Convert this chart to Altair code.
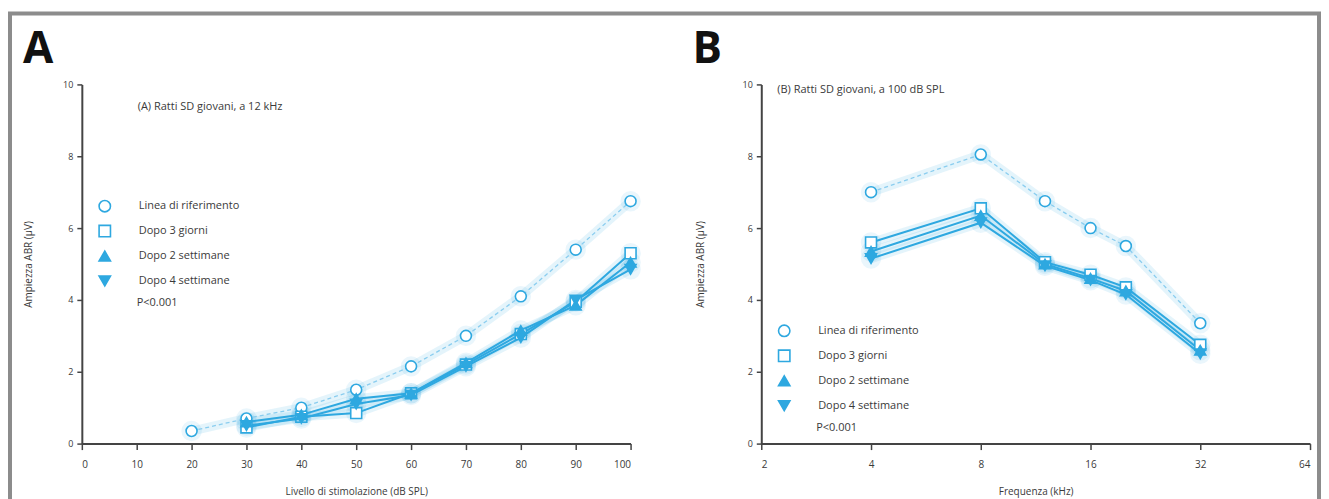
import altair as alt
import pandas as pd

GROUPS = ["Linea di riferimento", "Dopo 3 giorni", "Dopo 2 settimane", "Dopo 4 settimane"]
SHAPES = ["circle", "square", "triangle-up", "triangle-down"]

# Panel A: ABR amplitude vs stimulation level (12 kHz)
A_LEVELS = [20, 30, 40, 50, 60, 70, 80, 90, 100]
A_BASE = [0.35, 0.7, 1.0, 1.5, 2.15, 3.0, 4.1, 5.4, 6.75]
A_3G = [None, 0.45, 0.75, 0.85, 1.4, 2.2, 3.05, 3.95, 5.3]
A_2S = [None, 0.6, 0.8, 1.25, 1.4, 2.25, 3.15, 3.85, 5.05]
A_4S = [None, 0.5, 0.7, 1.1, 1.35, 2.15, 2.95, 4.0, 4.85]
A_XTICKS = [0, 10, 20, 30, 40, 50, 60, 70, 80, 90, 100]

# Panel B: ABR amplitude vs frequency (100 dB SPL)
B_FREQ = [4, 8, 12, 16, 20, 32]
B_BASE = [7.0, 8.05, 6.75, 6.0, 5.5, 3.35]
B_3G = [5.6, 6.55, 5.05, 4.7, 4.35, 2.75]
B_2S = [5.35, 6.35, 5.0, 4.6, 4.25, 2.6]
B_4S = [5.15, 6.15, 4.95, 4.55, 4.15, 2.5]
B_XTICKS = [2, 4, 8, 16, 32, 64]

Y_TICKS = [0, 2, 4, 6, 8, 10]

CYAN = "#2EA8E0"
LIGHT = "#8ACDEF"
DARK = "#3a3a3a"
FONT = "Open Sans"


def long_df(xs, series):
    rows = []
    for g, vals in zip(GROUPS, series):
        for x, v in zip(xs, vals):
            if v is not None:
                rows.append({"x": x, "v": v, "g": g})
    return pd.DataFrame(rows)


dfA = long_df(A_LEVELS, [A_BASE, A_3G, A_2S, A_4S])
dfB = long_df(B_FREQ, [B_BASE, B_3G, B_2S, B_4S])


def make_panel(df, xscale, xaxis, y_title_pad, letter, letter_dx, note, note_dx, note_dy,
               leg_y, p_dy, border=False):
    x = alt.X("x:Q", scale=xscale, axis=xaxis)
    y = alt.Y("v:Q", scale=alt.Scale(domain=[0, 10], nice=False),
              axis=alt.Axis(values=Y_TICKS, title="Ampiezza ABR (μV)", labelFontSize=9,
                            titleFontSize=10, titleFontWeight="normal", titleColor=DARK,
                            labelColor=DARK, tickSize=5, labelPadding=4,
                            titlePadding=y_title_pad, domainWidth=2, domainColor="#444",
                            tickColor="#444", tickWidth=1.5, grid=False))
    base = alt.Chart(df)
    halo = base.mark_line(color=CYAN, strokeWidth=9, opacity=0.13).encode(x=x, y=y, detail="g:N")
    glow = base.mark_circle(color=CYAN, size=420, opacity=0.10).encode(x=x, y=y)
    dashed = base.transform_filter(alt.datum.g == GROUPS[0]).mark_line(
        color=LIGHT, strokeWidth=1.3, strokeDash=[4, 3]).encode(x=x, y=y)
    solid = base.transform_filter(alt.datum.g != GROUPS[0]).mark_line(
        color=CYAN, strokeWidth=2.0).encode(x=x, y=y, detail="g:N")
    leg = alt.Legend(title=None, orient="none", legendX=16, legendY=leg_y, padding=0,
                     labelFont=FONT, labelFontSize=11, labelColor=DARK, symbolSize=130,
                     symbolStrokeWidth=1.6, rowPadding=7, labelOffset=27)
    pts = base.mark_point(strokeWidth=1.6, size=120, opacity=1).encode(
        x=x, y=y,
        shape=alt.Shape("g:N", scale=alt.Scale(domain=GROUPS, range=SHAPES), legend=leg),
        fill=alt.Fill("g:N", scale=alt.Scale(domain=GROUPS, range=["white", "white", CYAN, CYAN]),
                      legend=leg),
        stroke=alt.Stroke("g:N", scale=alt.Scale(domain=GROUPS, range=[CYAN] * 4), legend=leg),
    )
    one = pd.DataFrame({"k": [0]})
    letter_t = alt.Chart(one).mark_text(text=letter, font=FONT, fontSize=44, fontWeight="bold",
                                        align="left", baseline="alphabetic", color="#111").encode(
        x=alt.value(letter_dx), y=alt.value(-21))
    note_t = alt.Chart(one).mark_text(text=note, font=FONT, fontSize=11, align="left",
                                      baseline="middle", color=DARK).encode(
        x=alt.value(note_dx), y=alt.value(note_dy))
    p_t = alt.Chart(one).mark_text(text="P<0.001", font=FONT, fontSize=11, align="left",
                                   baseline="middle", color=DARK).encode(
        x=alt.value(55), y=alt.value(p_dy))
    layers = []
    if border:
        layers.append(alt.Chart(one).mark_rect(fillOpacity=0, stroke="#8c8c8c", strokeWidth=4).encode(
            x=alt.value(-72), x2=alt.value(1240), y=alt.value(-71), y2=alt.value(440)))
    layers += [halo, glow, dashed, solid, pts, letter_t, note_t, p_t]
    return alt.layer(*layers).properties(width=550, height=360)


axis_common = dict(labelFontSize=10, titleFontSize=10, titleFontWeight="normal", titleColor=DARK,
                   labelColor=DARK, tickSize=6, labelPadding=10, titlePadding=17, domainWidth=2,
                   domainColor="#444", tickColor="#444", tickWidth=1.5, grid=False)

panelA = make_panel(
    dfA,
    alt.Scale(domain=[0, 100], nice=False, zero=False),
    alt.Axis(values=A_XTICKS, title="Livello di stimolazione (dB SPL)", **axis_common),
    29, "A", -59, "(A) Ratti SD giovani, a 12 kHz", 56, 23, 115, 219, border=True)

panelB = make_panel(
    dfB,
    alt.Scale(type="log", base=2, domain=[2, 64], nice=False),
    alt.Axis(values=B_XTICKS, format="d", title="Frequenza (kHz)", **axis_common),
    37, "B", -69, "(B) Ratti SD giovani, a 100 dB SPL", 16, 6, 240, 344)

chart = alt.hconcat(panelA, panelB, spacing=131, bounds="flush").resolve_scale(
    x="independent", y="independent", shape="independent", fill="independent",
    stroke="independent"
).resolve_legend(shape="independent", fill="independent", stroke="independent").properties(
    padding={"left": 0, "top": 3, "right": 0, "bottom": 0}
).configure(font=FONT).configure_view(strokeWidth=0)

chart.save("out.html", embed_options={"renderer": "svg", "actions": False})
